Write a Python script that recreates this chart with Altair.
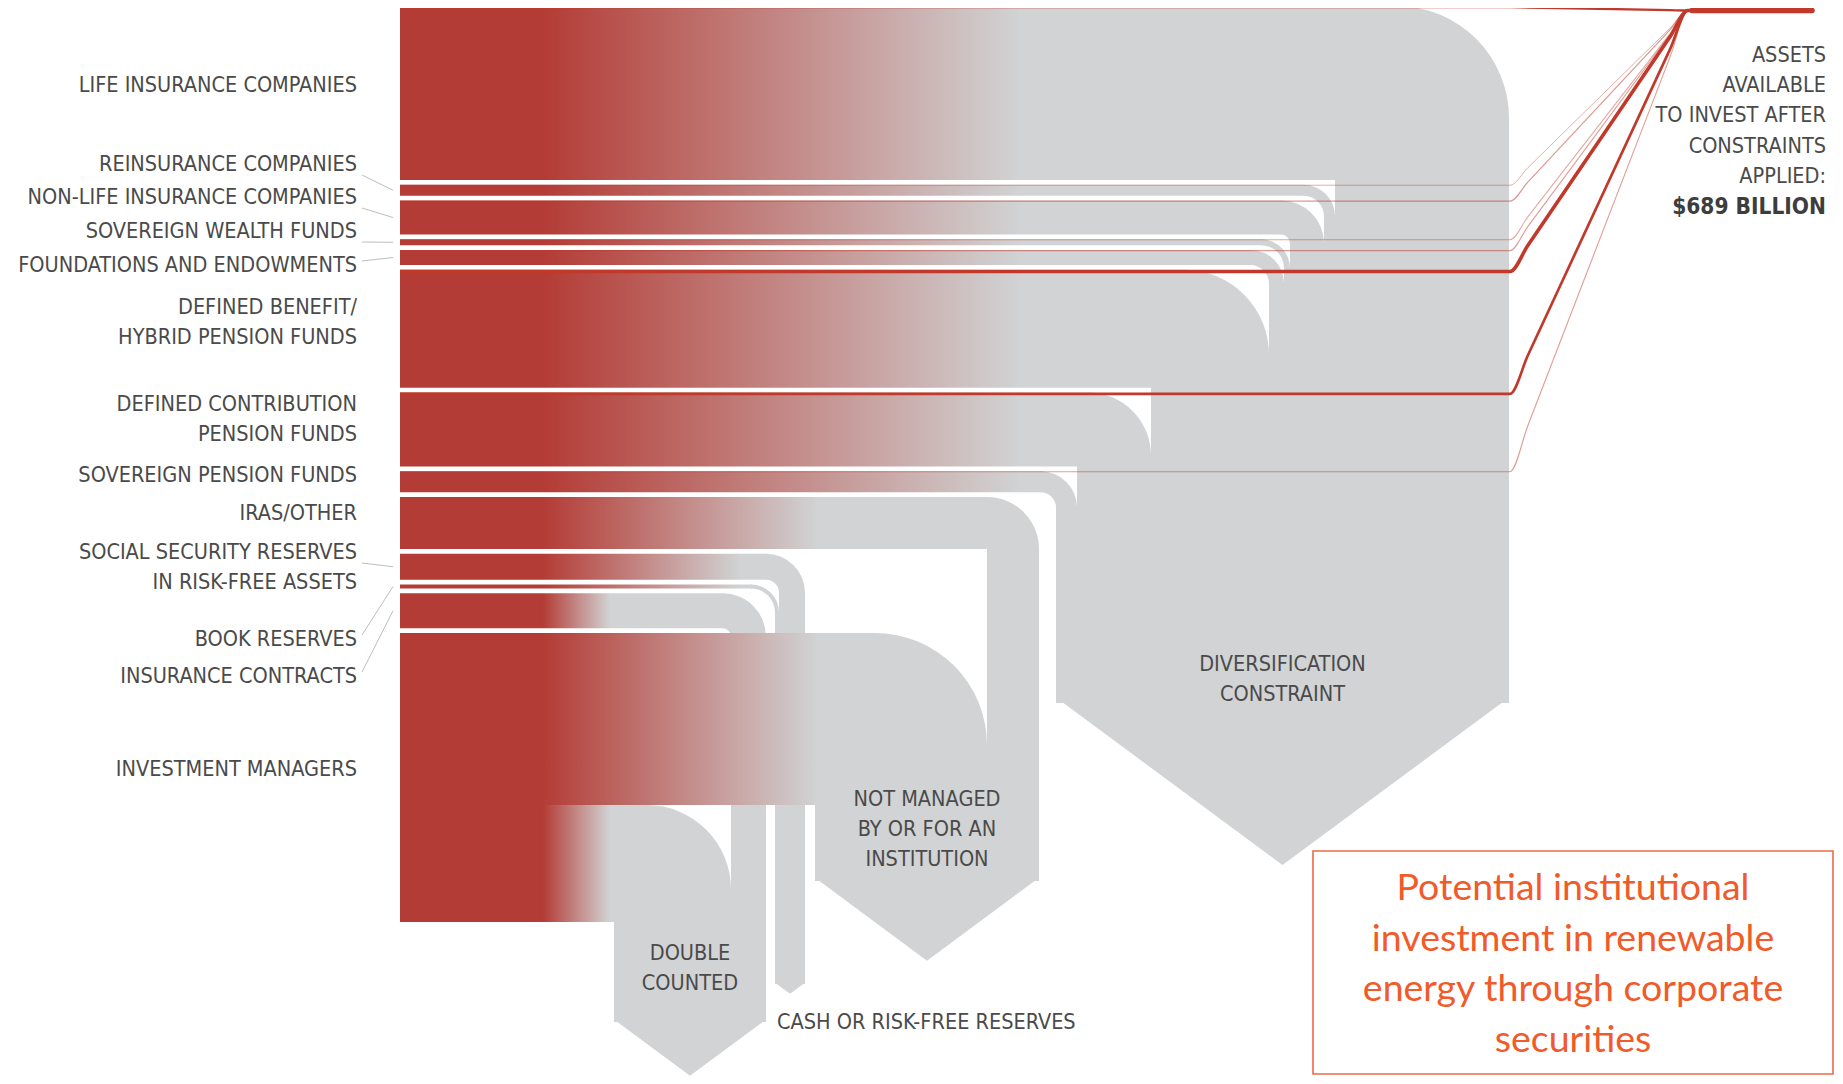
import math
import altair as alt
import pandas as pd

# ---------------------------------------------------------------- data
categories = [
    "LIFE INSURANCE COMPANIES", "REINSURANCE COMPANIES", "NON-LIFE INSURANCE COMPANIES",
    "SOVEREIGN WEALTH FUNDS", "FOUNDATIONS AND ENDOWMENTS",
    "DEFINED BENEFIT/ HYBRID PENSION FUNDS", "DEFINED CONTRIBUTION PENSION FUNDS",
    "SOVEREIGN PENSION FUNDS", "IRAS/OTHER",
    "SOCIAL SECURITY RESERVES IN RISK-FREE ASSETS", "BOOK RESERVES",
    "INSURANCE CONTRACTS", "INVESTMENT MANAGERS",
]
label_lines = [
    ["LIFE INSURANCE COMPANIES"], ["REINSURANCE COMPANIES"], ["NON-LIFE INSURANCE COMPANIES"],
    ["SOVEREIGN WEALTH FUNDS"], ["FOUNDATIONS AND ENDOWMENTS"],
    ["DEFINED BENEFIT/", "HYBRID PENSION FUNDS"], ["DEFINED CONTRIBUTION", "PENSION FUNDS"],
    ["SOVEREIGN PENSION FUNDS"], ["IRAS/OTHER"],
    ["SOCIAL SECURITY RESERVES", "IN RISK-FREE ASSETS"], ["BOOK RESERVES"],
    ["INSURANCE CONTRACTS"], ["INVESTMENT MANAGERS"],
]
assets_tn = [17.4, 1.1, 3.4, 0.6, 1.5, 11.8, 7.4, 2.1, 5.2, 2.6, 0.4, 3.5, 28.9]
# assets available after constraints (USD billion) -> red lines
available_bn = [140, 15, 35, 20, 30, 250, 170, 29, 0, 0, 0, 0, 0]
total_available = "$689 BILLION"

sinks = ["DIVERSIFICATION CONSTRAINT", "NOT MANAGED BY OR FOR AN INSTITUTION",
         "CASH OR RISK-FREE RESERVES", "DOUBLE COUNTED"]
sink_lines = [["DIVERSIFICATION", "CONSTRAINT"], ["NOT MANAGED", "BY OR FOR AN", "INSTITUTION"],
              ["CASH OR RISK-FREE RESERVES"], ["DOUBLE", "COUNTED"]]
# constrained flows: source index -> sink index, USD trillion
flow_source = [0, 1, 2, 3, 4, 5, 6, 7, 8, 9, 10, 11, 12, 12]
flow_sink = [0, 0, 0, 0, 0, 0, 0, 0, 1, 2, 2, 3, 1, 3]
flow_tn = [17.4, 1.1, 3.4, 0.6, 1.5, 11.8, 7.4, 2.1, 5.2, 2.6, 0.4, 3.5, 17.2, 11.7]

right_lines = ["ASSETS", "AVAILABLE", "TO INVEST AFTER", "CONSTRAINTS", "APPLIED:"]
box_lines = ["Potential institutional", "investment in renewable",
             "energy through corporate", "securities"]

# ---------------------------------------------------------------- layout / style
W, H = 1827, 1068
OX, OY = 8, 8
PX = 10.0                       # px per USD trillion
X_LEFT, X_SOLID = 400, 543
Y_TOP, Y_BOTTOM = 6, 922
SINK_LEFT = [1056, 815, 775, 614]
SINK_SIDE = [702, 880, 983, 1021]
SINK_GRAD = [1020, 818, 740, 610]
ARROW_K = 0.72
LABEL_Y = [86, 165, 198, 232, 266, 323, 420, 476, 514, 568, 640, 677, 770]
LEADERS = [1, 2, 3, 4, 9, 10, 11]
LABEL_X = 357
LINE_H = 30
XA, XB, Y_END, X_END = 1510, 1688, 10.5, 1812
BOX = dict(x=1313, x2=1833, y=851, y2=1074)

RED = "#b43c36"
GREY = "#d1d3d4"
LRED = "#c0392b"
TXT = "#4a4a4a"
ORANGE = "#f15a29"
FONT = "DejaVu Sans Condensed"
FS = 21.5

XS = alt.Scale(domain=[OX, OX + W], nice=False, zero=False)
YS = alt.Scale(domain=[OY, OY + H], nice=False, zero=False, reverse=True)


def X(f):
    return alt.X(f"{f}:Q", scale=XS, axis=None)


def Y(f):
    return alt.Y(f"{f}:Q", scale=YS, axis=None)


n = len(categories)
band_px = [v * PX for v in assets_tn]
gap = (Y_BOTTOM - Y_TOP - sum(band_px)) / (n - 1)
tops = []
yy = Y_TOP
for h in band_px:
    tops.append(yy)
    yy += h + gap

pieces = []
offs = [0.0] * n
for s, k, v in zip(flow_source, flow_sink, flow_tn):
    h = v * PX
    y0 = tops[s] + offs[s]
    offs[s] += h
    pieces.append(dict(src=s, sink=k, y0=y0, y1=y0 + h, h=h))

sink_right = []
for k in range(len(sinks)):
    ps = sorted([p for p in pieces if p["sink"] == k], key=lambda p: -p["y0"])
    x = SINK_LEFT[k]
    for p in ps:
        p["xl"] = x
        x += p["h"]
        p["xr"] = x
    sink_right.append(x)

red_rows, grad_rows, greyh_rows, arc_rows, vert_rows = [], [], [], [], []
for p in pieces:
    k = p["sink"]
    R = min(112.0, 0.5 * p["h"] + 26)
    turn = p["xr"]
    red_rows.append(dict(x=X_LEFT, x2=X_SOLID, y=p["y0"], y2=p["y1"]))
    grad_rows.append(dict(x=X_SOLID, x2=SINK_GRAD[k], y=p["y0"], y2=p["y1"]))
    greyh_rows.append(dict(x=SINK_GRAD[k] - 0.5, x2=turn - R + 1, y=p["y0"], y2=p["y1"]))
    arc_rows.append(dict(cx=turn - R, cy=p["y0"] + R, R=R, r=max(0.0, R - p["h"]),
                         t0=0.0, t1=math.pi / 2))
    vert_rows.append(dict(x=turn - p["h"], x2=turn, y=p["y0"] + R - 1, y2=SINK_SIDE[k] + 1))

# arrow heads: one custom-shaped symbol per sink column, width = column width
ARROW_SHAPE = f"M-1,-0.02L1,-0.02L0,{ARROW_K}Z"
arrow_rows = []
for k in range(len(sinks)):
    L, Rr = SINK_LEFT[k], sink_right[k]
    arrow_rows.append(dict(sink=k, x=(L + Rr) / 2, y=SINK_SIDE[k], s=(Rr - L) ** 2))

line_rows = []
for s in range(n):
    a = available_bn[s]
    if a <= 0:
        continue
    sw = 0.8 + a / 90.0
    op = min(1.0, 0.35 + a / 200.0)
    yl = tops[s] + sw / 2
    pts = [(X_LEFT, yl), (XA, yl),
           (XA + 0.1 * (XB - XA), yl + 0.1 * (Y_END - yl)),
           (XA + 0.9 * (XB - XA), yl + 0.9 * (Y_END - yl)),
           (XB, Y_END), (X_END - 20, Y_END)]
    for i, (xx, y) in enumerate(pts):
        line_rows.append(dict(line=s, i=i, x=xx, y=y, sw=sw, op=op))

thick_rows = [dict(i=0, x=XB + 4, y=Y_END), dict(i=1, x=X_END, y=Y_END)]

label_rows = []
for s in range(n):
    lines = label_lines[s]
    for j, t in enumerate(lines):
        label_rows.append(dict(x=LABEL_X, y=LABEL_Y[s] + (j - (len(lines) - 1) / 2) * LINE_H, text=t))

leader_rows = []
for s in LEADERS:
    first = LABEL_Y[s] - (len(label_lines[s]) - 1) / 2 * LINE_H
    bc = tops[s] + band_px[s] / 2
    sy = first + max(-5, min(10, bc - first))
    leader_rows.append(dict(x=LABEL_X + 5, y=sy, x2=393, y2=bc))

sink_rows, cash_rows = [], []
sink_text_offsets = {0: [-37, -7], 1: [-80, -50, -20], 3: [-67, -37]}
for k, offsets in sink_text_offsets.items():
    cx = (SINK_LEFT[k] + sink_right[k]) / 2
    for t, o in zip(sink_lines[k], offsets):
        sink_rows.append(dict(x=cx, y=SINK_SIDE[k] + o, text=t))
cash_rows.append(dict(x=SINK_LEFT[2] + 2, y=SINK_SIDE[2] + 40, text=sink_lines[2][0]))

right_rows = [dict(x=1826, y=56 + 30.2 * j, text=t) for j, t in enumerate(right_lines)]
bold_rows = [dict(x=1826, y=207, text=total_available)]

box_rect = [BOX]
box_cx = (BOX["x"] + BOX["x2"]) / 2
box_rows = [dict(x=box_cx, y=BOX["y"] + 38 + 50.5 * j, text=t) for j, t in enumerate(box_lines)]

# ---------------------------------------------------------------- marks
def rect_layer(rows, **kw):
    return alt.Chart(pd.DataFrame(rows)).mark_rect(**kw).encode(
        x=X("x"), x2=alt.X2("x2"), y=Y("y"), y2=alt.Y2("y2"))


gradient = alt.LinearGradient(
    gradient="linear",
    stops=[alt.GradientStop(offset=0, color=RED),
           alt.GradientStop(offset=1, color=GREY)],
    x1=0, x2=1, y1=0, y2=0)

vert = rect_layer(vert_rows, color=GREY)
arrows = alt.Chart(pd.DataFrame(arrow_rows)).mark_point(
    shape=ARROW_SHAPE, filled=True, color=GREY, opacity=1, strokeWidth=0).encode(
    x=X("x"), y=Y("y"), size=alt.Size("s:Q", scale=None))
arcs = alt.Chart(pd.DataFrame(arc_rows)).mark_arc(color=GREY).encode(
    x=X("cx"), y=Y("cy"),
    theta=alt.Theta("t0:Q", scale=None), theta2=alt.Theta2("t1:Q"),
    radius=alt.Radius("R:Q", scale=None), radius2=alt.Radius2("r:Q"))
greyh = rect_layer(greyh_rows, color=GREY)
grad = rect_layer(grad_rows, fill=gradient, stroke=None)
red = rect_layer(red_rows, color=RED)

lines = alt.Chart(pd.DataFrame(line_rows)).mark_line(color=LRED, interpolate="monotone").encode(
    x=X("x"), y=Y("y"), detail="line:N", order="i:Q",
    strokeWidth=alt.StrokeWidth("sw:Q", scale=None),
    opacity=alt.Opacity("op:Q", scale=None))
thick = alt.Chart(pd.DataFrame(thick_rows)).mark_line(
    color=LRED, strokeWidth=5.5, strokeCap="round").encode(x=X("x"), y=Y("y"), order="i:Q")

leaders = alt.Chart(pd.DataFrame(leader_rows)).mark_rule(color="#bdbdbd", strokeWidth=1).encode(
    x=X("x"), y=Y("y"), x2=alt.X2("x2"), y2=alt.Y2("y2"))


def text_layer(rows, **kw):
    return alt.Chart(pd.DataFrame(rows)).mark_text(baseline="middle", **kw).encode(
        x=X("x"), y=Y("y"), text="text:N")


labels = text_layer(label_rows, align="right", font=FONT, fontSize=FS, color=TXT)
sink_txt = text_layer(sink_rows, align="center", font=FONT, fontSize=FS, color=TXT)
cash_txt = text_layer(cash_rows, align="left", font=FONT, fontSize=FS, color=TXT)
right_txt = text_layer(right_rows, align="right", font=FONT, fontSize=FS, color=TXT)
bold_txt = text_layer(bold_rows, align="right", font=FONT, fontSize=FS + 1, fontWeight="bold", color="#3d3d3d")
box = rect_layer(box_rect, filled=False, stroke="#ec6a4a", strokeWidth=1.6)
box_txt = text_layer(box_rows, align="center", font="Lato", fontSize=37.5, color=ORANGE)

chart = alt.layer(
    vert, arrows, arcs, greyh, grad, red, lines, thick, leaders,
    labels, sink_txt, cash_txt, right_txt, bold_txt, box, box_txt
).properties(
    width=W, height=H, padding=0, autosize=alt.AutoSizeParams(type="none")
).configure_view(stroke=None)

chart.save("out.html", embed_options={"renderer": "svg", "actions": False})
